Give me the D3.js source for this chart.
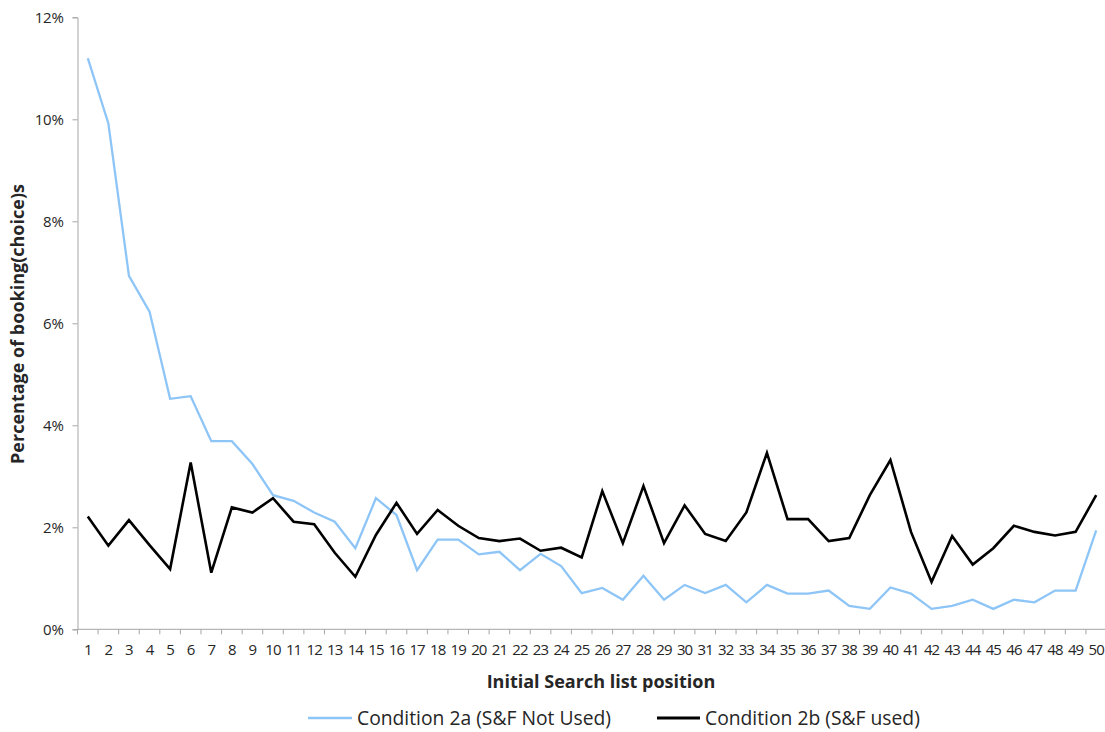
<!DOCTYPE html>
<html>
<head>
<meta charset="utf-8">
<script src="https://cdn.jsdelivr.net/npm/d3@7"></script>
<style>
  html, body { margin: 0; padding: 0; background: #fff; }
  svg { display: block; }
  text { font-family: "Open Sans", "Liberation Sans", sans-serif; fill: #262626; }
</style>
</head>
<body>
<svg id="chart" width="1105" height="732"></svg>
<script>
// ---- data ----
const positions = d3.range(1, 51);
const seriesNames = ["Condition 2a (S&F Not Used)", "Condition 2b (S&F used)"];
const cond2a = [11.20, 9.92, 6.93, 6.23, 4.52, 4.57, 3.69, 3.69, 3.24, 2.63,
                2.52, 2.29, 2.11, 1.59, 2.57, 2.24, 1.16, 1.76, 1.76, 1.47,
                1.52, 1.16, 1.48, 1.24, 0.71, 0.81, 0.58, 1.05, 0.58, 0.87,
                0.71, 0.87, 0.53, 0.87, 0.70, 0.70, 0.76, 0.46, 0.40, 0.82,
                0.70, 0.40, 0.46, 0.58, 0.40, 0.58, 0.53, 0.76, 0.76, 1.94];
const cond2b = [2.21, 1.64, 2.14, 1.65, 1.18, 3.27, 1.11, 2.39, 2.29, 2.57,
                2.11, 2.06, 1.50, 1.03, 1.85, 2.48, 1.87, 2.34, 2.03, 1.79,
                1.73, 1.78, 1.54, 1.60, 1.41, 2.71, 1.69, 2.81, 1.69, 2.43,
                1.87, 1.73, 2.29, 3.46, 2.16, 2.16, 1.73, 1.79, 2.63, 3.32,
                1.91, 0.93, 1.83, 1.27, 1.59, 2.03, 1.91, 1.84, 1.91, 2.63];
const yTicks = [0, 2, 4, 6, 8, 10, 12];
const xTitle = "Initial Search list position";
const yTitle = "Percentage of booking(choice)s";
const colors = ["#8ec5f7", "#000000"];

// ---- layout ----
const svg = d3.select("#chart");
const mLeft = 77.5, mRight = 1106.5, mTop = 17.3, mBottom = 629.3;

const x = d3.scaleBand().domain(positions).range([mLeft, mRight]);
const y = d3.scaleLinear().domain([0, 12]).range([mBottom, mTop]);

// y axis
const yAxis = svg.append("g")
  .attr("transform", `translate(${mLeft},0)`)
  .call(d3.axisLeft(y).tickValues(yTicks).tickSize(5).tickPadding(9)
        .tickFormat(d => d + "%"));
yAxis.selectAll("path, line").attr("stroke", "#a6a6a6").attr("stroke-width", 1);
yAxis.selectAll("text").attr("font-size", "15px").attr("fill", "#404040")
  .attr("letter-spacing", "-0.3px")
  .style("font-family", "'Open Sans', sans-serif");

// x axis: ticks at band boundaries, labels at band centers
const xAxisG = svg.append("g").attr("transform", `translate(0,${mBottom})`);
xAxisG.append("line").attr("x1", mLeft).attr("x2", mRight)
  .attr("stroke", "#a6a6a6").attr("stroke-width", 1);
const bounds = positions.map(p => x(p)).concat([mRight]);
xAxisG.selectAll("line.tk").data(bounds).join("line").attr("class", "tk")
  .attr("x1", d => d).attr("x2", d => d).attr("y1", 0).attr("y2", 5)
  .attr("stroke", "#a6a6a6").attr("stroke-width", 1);
xAxisG.selectAll("text").data(positions).join("text")
  .attr("x", d => x(d) + x.bandwidth() / 2)
  .attr("y", 26)
  .attr("text-anchor", "middle")
  .attr("font-size", "15px")
  .attr("fill", "#404040")
  .attr("letter-spacing", "-0.9px")
  .text(d => d);

// lines
const line = d3.line()
  .x((d, i) => x(positions[i]) + x.bandwidth() / 2)
  .y(d => y(d));
[cond2a, cond2b].forEach((s, i) => {
  svg.append("path").datum(s)
    .attr("fill", "none")
    .attr("stroke", colors[i])
    .attr("stroke-width", i === 0 ? 2.3 : 2.6)
    .attr("stroke-linejoin", "miter")
    .attr("d", line);
});

// titles
svg.append("text")
  .attr("x", 601).attr("y", 688)
  .attr("text-anchor", "middle")
  .attr("font-size", "18px").attr("font-weight", "bold")
  .attr("fill", "#000")
  .text(xTitle);

svg.append("text")
  .attr("transform", "translate(24,324) rotate(-90)")
  .attr("text-anchor", "middle")
  .attr("font-size", "18px").attr("font-weight", "bold")
  .attr("fill", "#000")
  .text(yTitle);

// legend
const legendItems = [
  { name: seriesNames[0], color: colors[0], x1: 308, x2: 352, tx: 357 },
  { name: seriesNames[1], color: colors[1], x1: 657, x2: 700, tx: 705 }
];
const lg = svg.append("g");
legendItems.forEach((d, i) => {
  lg.append("line").attr("x1", d.x1).attr("x2", d.x2)
    .attr("y1", 718).attr("y2", 718)
    .attr("stroke", d.color).attr("stroke-width", i === 0 ? 2.3 : 2.8);
  lg.append("text").attr("x", d.tx).attr("y", 725)
    .attr("font-size", "19.3px").attr("fill", "#262626")
    .text(d.name);
});
</script>
</body>
</html>
